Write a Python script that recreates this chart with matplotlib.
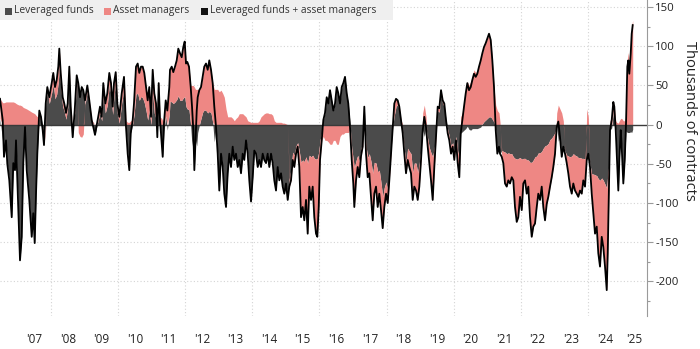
import numpy as np
import matplotlib.pyplot as plt
from matplotlib.patches import Rectangle

plt.rcParams['font.family'] = ['Open Sans', 'DejaVu Sans']
plt.rcParams['axes.unicode_minus'] = False

# weekly-ish readings, decimal years
years = [
    2006.480, 2006.560, 2006.599, 2006.659, 2006.698, 2006.757, 2006.829, 2006.876, 2006.927, 2006.957,
    2006.996, 2007.046, 2007.076, 2007.127, 2007.174, 2007.225, 2007.276, 2007.353, 2007.425, 2007.472,
    2007.514, 2007.553, 2007.592, 2007.651, 2007.702, 2007.752, 2007.791, 2007.842, 2007.890, 2007.949,
    2008.021, 2008.068, 2008.119, 2008.170, 2008.217, 2008.247, 2008.289, 2008.348, 2008.396, 2008.447,
    2008.497, 2008.545, 2008.587, 2008.646, 2008.706, 2008.766, 2008.813, 2008.864, 2008.915, 2008.962,
    2009.013, 2009.082, 2009.141, 2009.213, 2009.311, 2009.391, 2009.460, 2009.511, 2009.558, 2009.618,
    2009.678, 2009.737, 2009.788, 2009.838, 2009.877, 2009.928, 2009.976, 2010.035, 2010.107, 2010.175,
    2010.235, 2010.285, 2010.333, 2010.375, 2010.434, 2010.473, 2010.533, 2010.583, 2010.631, 2010.682,
    2010.732, 2010.780, 2010.831, 2010.881, 2010.929, 2010.980, 2011.030, 2011.078, 2011.129, 2011.168,
    2011.209, 2011.248, 2011.299, 2011.328, 2011.367, 2011.418, 2011.466, 2011.525,
    2011.546, 2011.597, 2011.644, 2011.695, 2011.746, 2011.793, 2011.844, 2011.895, 2011.942, 2011.984,
    2012.023, 2012.062, 2012.112, 2012.163, 2012.202, 2012.241, 2012.271, 2012.306, 2012.342, 2012.371,
    2012.419, 2012.470, 2012.520, 2012.567, 2012.619, 2012.669, 2012.717, 2012.768, 2012.818, 2012.866,
    2012.917, 2012.967, 2013.015, 2013.066, 2013.116, 2013.164, 2013.215, 2013.265, 2013.313, 2013.364,
    2013.414, 2013.462, 2013.513, 2013.563, 2013.611, 2013.662, 2013.712, 2013.760, 2013.811, 2013.861,
    2013.909, 2013.960, 2014.010, 2014.058, 2014.109, 2014.159, 2014.207, 2014.258, 2014.308, 2014.356,
    2014.407, 2014.457, 2014.505, 2014.556, 2014.606, 2014.654, 2014.705, 2014.755, 2014.803, 2014.854,
    2014.904, 2014.952, 2015.003, 2015.053, 2015.101, 2015.152, 2015.202, 2015.250, 2015.301, 2015.351,
    2015.399, 2015.450, 2015.500, 2015.548, 2015.599, 2015.649, 2015.697, 2015.748, 2015.798, 2015.846,
    2015.897, 2015.936, 2015.978, 2016.016, 2016.067, 2016.115, 2016.165, 2016.216, 2016.263, 2016.314,
    2016.365, 2016.413, 2016.463, 2016.513, 2016.561,
    2016.612, 2016.663, 2016.710, 2016.761, 2016.812, 2016.859, 2016.910, 2016.961, 2017.008, 2017.038,
    2017.089, 2017.139, 2017.187, 2017.238, 2017.288, 2017.336, 2017.387, 2017.437, 2017.485, 2017.536,
    2017.586, 2017.634, 2017.685, 2017.735, 2017.783, 2017.834, 2017.884, 2017.932, 2017.983, 2018.033,
    2018.081, 2018.132, 2018.182, 2018.230, 2018.281, 2018.331, 2018.379, 2018.430, 2018.480, 2018.528,
    2018.579, 2018.629, 2018.677, 2018.728, 2018.778, 2018.826, 2018.877, 2018.927, 2018.975, 2019.026,
    2019.076, 2019.124, 2019.175, 2019.225, 2019.273, 2019.324, 2019.374, 2019.422, 2019.473, 2019.523,
    2019.571, 2019.622, 2019.672, 2019.720, 2019.771, 2019.821, 2019.869, 2019.920, 2019.970, 2020.018,
    2020.069, 2020.119, 2020.167, 2020.209, 2020.257, 2020.307, 2020.358, 2020.406, 2020.456, 2020.507,
    2020.555, 2020.605, 2020.656, 2020.704, 2020.754, 2020.805, 2020.853, 2020.903, 2020.954, 2021.002,
    2021.052, 2021.103, 2021.151, 2021.201, 2021.252, 2021.300, 2021.350,
    2021.380, 2021.431, 2021.478, 2021.529, 2021.580, 2021.627, 2021.678, 2021.729, 2021.776, 2021.827,
    2021.878, 2021.925, 2021.976, 2022.027, 2022.074, 2022.125, 2022.176, 2022.223, 2022.274, 2022.325,
    2022.372, 2022.423, 2022.474, 2022.521, 2022.572, 2022.623, 2022.670, 2022.721, 2022.772, 2022.819,
    2022.870, 2022.921, 2022.968, 2023.019, 2023.070, 2023.117, 2023.168, 2023.219, 2023.266, 2023.317,
    2023.368, 2023.415, 2023.466, 2023.517, 2023.564, 2023.615, 2023.666, 2023.713, 2023.764, 2023.815,
    2023.862, 2023.913, 2023.964, 2024.011, 2024.062, 2024.113, 2024.160, 2024.211, 2024.262, 2024.309,
    2024.360, 2024.411, 2024.458, 2024.509, 2024.560, 2024.590, 2024.628, 2024.658, 2024.709, 2024.756,
    2024.786, 2024.828, 2024.857, 2024.905, 2024.935, 2024.977, 2025.006, 2025.054, 2025.096, 2025.135,
    2025.174, 2025.203, 2025.233, 2025.275, 2025.304, 2025.334,
]

# leveraged funds + asset managers (thousands of contracts)
combined = [
    33, 6, -41, -20, -50, -71, -118, -49, -58, -20,
    -71, -139, -173, -143, -49, -3, -58, -96, -143, -113,
    -151, -88, -37, 18, 10, -7, -26, 27, 48, 35,
    53, 66, 48, 57, 74, 97, 66, 35, 27, 15,
    27, 74, 23, -16, 18, 63, 53, 35, 48, 44,
    31, 50, 31, 6, -13, 6, 23, 10, 53, 27,
    40, 66, 53, 23, 53, 67, 27, 10, 40, 61,
    -3, -37, -58, -11, 6, 27, 74, 78, 66, 74,
    74, 66, 48, 31, 48, 10, 70, 40, 27, -16,
    53, 6, -24, -41, 2, 31, 18, 48,
    70, 74, 67, 74, 82, 97, 91, 86, 99, 106,
    78, 80, 74, 48, 23, -7, -58, -20, 18, 35,
    44, 48, 61, 74, 78, 70, 82, 70, 53, 23,
    -3, -37, -84, -37, -54, -88, -105, -62, -37, -54,
    -28, -45, -37, -54, -45, -62, -37, -45, -20, -37,
    -71, -98, -67, -33, -37, -54, -45, -54, -37, -45,
    -49, -37, -54, -37, -49, -71, -84, -54, -71, -62,
    -79, -88, -75, -96, -79, -71, -45, -54, -37, -28,
    -54, -118, -105, -122, -96, -139, -79, -96, -79, -118,
    -139, -143, -105, -45, -20, 6, 15, 35, 27, 44,
    31, 18, 27, 48, 40,
    27, 48, 53, 61, 40, 27, -3, -45, -75, -105,
    -71, -54, -67, -40, -28, 23, -37, -67, -62, -92,
    -122, -88, -79, -105, -88, -109, -132, -105, -88, -100,
    -71, -37, -3, 27, 33, 31, 23, 6, -11, -37,
    -62, -45, -54, -62, -96, -79, -84, -96, -79, -45,
    -7, 10, -3, -28, -49, -71, -96, -54, -16, 23,
    21, 44, 31, 27, 6, -11, -20, -37, -28, -45,
    -20, -49, -67, -11, 6, 23, 40, 53, 44, 48,
    57, 65, 61, 65, 74, 82, 91, 99, 104, 110,
    116, 108, 82, 48, -7, -37, -28,
    -37, -41, -49, -75, -79, -71, -75, -67, -71, -105,
    -124, -118, -92, -109, -75, -71, -88, -79, -118, -143,
    -130, -126, -105, -88, -96, -79, -105, -122, -101, -92,
    -79, -67, -54, -37, -3, 4, -16, -41, -28, -37,
    -49, -62, -79, -88, -75, -84, -88, -92, -84, -88,
    -71, -79, -45, -37, -54, -88, -113, -139, -130, -164,
    -181, -143, -156, -181, -211, -164, -79, -7, 6, 29,
    23, -7, -37, -84, -45, -7, -28, -75, -45, 2,
    74, 82, 65, 91, 116, 127,
]

# asset managers (thousands of contracts)
asset_mgr = [
    25, 28, 28, 29, 29, 29, 29, 29, 28, 27,
    26, 25, 25, 24, 22, 21, 20, 18, 16, 15,
    14, 12, 10, 3, 0, -3, -5, -5, 5, 8,
    12, 15, 15, 18, 20, 22, 18, 12, 10, 8,
    5, 8, 5, 0, 3, 8, -10, -15, -16, -12,
    5, 8, 6, 3, 0, 3, 8, 5, 12, 12,
    15, 15, 15, 10, 15, 15, 12, 8, 12, 15,
    5, 3, 3, 5, 5, 15, 35, 38, 35, 38,
    40, 38, 30, 25, 30, 10, 30, 25, 20, 5,
    15, 10, 8, 5, 10, 20, 25, 35,
    40, 45, 40, 45, 50, 60, 60, 55, 65, 70,
    55, 60, 55, 50, 50, 50, 48, 45, 45, 45,
    45, 40, 45, 55, 60, 55, 65, 55, 50, 45,
    45, 45, 42, 44, 40, 35, 20, 10, 10, 10,
    8, 5, 8, 10, 14, 14, 14, 12, 10, 5,
    4, 3, 3, 3, 3, 3, 5, 10, 12, 14,
    15, 15, 14, 14, 12, 5, 3, 3, 3, 3,
    2, 2, 1, 0, -10, -15, -10, -15, -10, -5,
    -20, -70, -60, -75, -55, -90, -40, -55, -40, -75,
    -95, -100, -70, -25, -10, -15, -20, -20, -22, -25,
    -25, -20, -20, -25, -25,
    -15, -12, -12, -10, -10, -10, -5, -15, -30, -50,
    -25, -15, -20, -10, -5, 0, -10, -25, -25, -45,
    -60, -40, -30, -45, -30, -35, -40, -25, -15, -15,
    -10, -5, 5, 15, 10, 5, 5, 5, 0, -5,
    -15, -15, -20, -25, -35, -30, -35, -35, -30, -15,
    15, 25, 10, -10, -20, -35, -55, -25, -5, 5,
    5, 5, 5, 3, 0, -5, -5, -10, -5, -10,
    -5, -15, -25, 10, 15, 30, 45, 55, 50, 55,
    62, 70, 66, 70, 78, 85, 90, 95, 98, 102,
    106, 98, 75, 45, 25, 18, 15,
    3, -8, -15, -40, -42, -35, -38, -30, -30, -62,
    -80, -75, -50, -65, -32, -28, -43, -34, -70, -95,
    -85, -85, -65, -52, -60, -45, -75, -95, -75, -68,
    -60, -50, -40, -27, 15, 25, 20, 15, 5, -3,
    -10, -22, -38, -48, -38, -45, -48, -50, -42, -45,
    -28, -35, 20, 10, -3, -25, -50, -75, -65, -95,
    -110, -75, -85, -105, -130, -100, -30, 5, 10, 12,
    10, 5, 3, 2, 5, 8, 8, 5, 5, 10,
    84, 92, 75, 100, 126, 133,
]

year_labels = ["'07", "'08", "'09", "'10", "'11", "'12", "'13", "'14", "'15",
               "'16", "'17", "'18", "'19", "'20", "'21", "'22", "'23", "'24", "'25"]

DARK = '#4b4b4b'
SALMON = '#ee8784'
W, H = 700, 349

t = np.array(years)
tot = np.array(combined, dtype=float)
am = np.array(asset_mgr, dtype=float)

# grey area: stacked under the salmon when both share a sign, else runs to the line
same = am * tot > 0
lev = np.where(same, tot - am, tot)
base = np.where(lev * am > 0, lev, 0)

fig = plt.figure(figsize=(W / 100, H / 100), dpi=100)
ax = fig.add_axes([0, 33 / H, 647 / W, 316 / H])

x_end = 2025.76
ax.set_xlim(2006.48, x_end)
ax.set_ylim(-244, 159)

for y in range(-200, 151, 50):
    if y != 0:
        ax.axhline(y, color='#d4d4d4', lw=0.8, ls=(0, (1, 2)), zorder=0)
for yr in range(2008, 2025, 2):
    ax.axvline(yr, color='#d4d4d4', lw=0.8, ls=(0, (1, 2)), zorder=0)

ax.fill_between(t, 0, lev, color=DARK, lw=0, zorder=1)
ax.fill_between(t, base, base + am, color=SALMON, lw=0, zorder=1)
ax.axhline(0, color='#3a3a3a', lw=1.0, zorder=2)
ax.plot(t, tot, color='black', lw=1.3, zorder=3)

# axes styling
for s in ['top', 'left', 'bottom']:
    ax.spines[s].set_visible(False)
ax.spines['right'].set_color('#9a9a9a')
ax.spines['right'].set_linewidth(0.8)
ax.yaxis.tick_right()
ax.set_yticks(range(-200, 151, 50))
ax.set_yticks(range(-225, 151, 25), minor=True)
ax.tick_params(axis='y', which='major', length=4, width=0.8, color='#9a9a9a',
               labelsize=8.2, labelcolor='#222222', pad=2)
ax.tick_params(axis='y', which='minor', length=2.5, width=0.8, color='#9a9a9a')

xpos = [y + 0.5 for y in range(2007, 2025)] + [(2025 + x_end) / 2]
ax.set_xticks(xpos)
ax.set_xticklabels(year_labels)
ax.tick_params(axis='x', length=0, labelsize=8.5, labelcolor='#222222', pad=12)

fig.text(689 / W, 1 - 121 / H, 'Thousands of contracts', rotation=-90,
         ha='center', va='center', fontsize=10.5, color='#222222')

# legend strip
def fx(px):
    return px / W

def fy(py):
    return 1 - py / H

fig.patches.append(Rectangle((0, fy(20)), fx(393), 20 / H, transform=fig.transFigure,
                             facecolor='#efefef', edgecolor='none', zorder=4))
items = [(5, DARK, 'Leveraged funds'), (104, SALMON, 'Asset managers'),
         (201, '#111111', 'Leveraged funds + asset managers')]
for px, col, lab in items:
    fig.patches.append(Rectangle((fx(px), fy(14.5)), fx(7), 7 / H, transform=fig.transFigure,
                                 facecolor=col, edgecolor='none', zorder=5))
    fig.text(fx(px + 9), fy(11), lab, ha='left', va='center', fontsize=7.4,
             color='#333333', zorder=6)

fig.savefig('out.png', dpi=100)
